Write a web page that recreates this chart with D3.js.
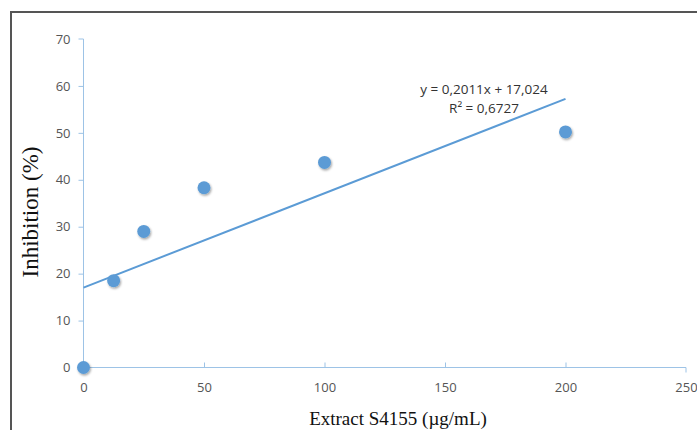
<!DOCTYPE html>
<html>
<head>
<meta charset="utf-8">
<script src="https://cdn.jsdelivr.net/npm/d3@7"></script>
<style>
  body { margin: 0; background: #fff; }
  .tick text { font-family: "Open Sans", "Liberation Sans", sans-serif; font-size: 13px; fill: #555; }
</style>
</head>
<body>
<div id="svg-area"></div>
<script>
// data
var concentrations = [0, 12.5, 25, 50, 100, 200];
var inhibition = [0, 18.5, 29, 38.3, 43.7, 50.2];
var xTicks = [0, 50, 100, 150, 200, 250];
var yTicks = [0, 10, 20, 30, 40, 50, 60, 70];
var trendSlope = 0.2011;
var trendIntercept = 17.024;
var trendLabels = ["y = 0,2011x + 17,024", "R² = 0,6727"];

var svgWidth = 697;
var svgHeight = 430;

var svg = d3.select("#svg-area")
  .append("svg")
  .attr("width", svgWidth)
  .attr("height", svgHeight);

// outer frame (top and left edges visible)
svg.append("path")
  .attr("d", "M11,430 V12 H697")
  .attr("fill", "none")
  .attr("stroke", "#555")
  .attr("stroke-width", 2);

var xScale = d3.scaleLinear().domain([0, 250]).range([83.5, 686]);
var yScale = d3.scaleLinear().domain([0, 70]).range([367.5, 39]);

var axisColor = "#9dc3e6";

// x axis
var xAxis = svg.append("g")
  .attr("transform", `translate(0, ${yScale(0)})`)
  .call(d3.axisBottom(xScale).tickValues(xTicks).tickSize(5).tickPadding(10));
xAxis.select(".domain").attr("stroke", axisColor).attr("d", `M${xScale(0)},0H${xScale(250)}V5`);
xAxis.selectAll(".tick line").attr("stroke", axisColor).attr("y1", -5).attr("y2", 0);
xAxis.selectAll(".tick").filter(d => d === 0 || d === 250).select("line").remove();

// y axis
var yAxis = svg.append("g")
  .attr("transform", `translate(${xScale(0)}, 0)`)
  .call(d3.axisLeft(yScale).tickValues(yTicks).tickSize(5).tickPadding(6));
yAxis.select(".domain").attr("stroke", axisColor).attr("d", `M-5,${yScale(70)}H0V${yScale(0)}`);
yAxis.selectAll(".tick line").attr("stroke", axisColor);
yAxis.selectAll(".tick text").attr("x", -13);
yAxis.selectAll(".tick").filter(d => d === 70).select("line").remove();

// trendline
svg.append("line")
  .attr("x1", xScale(0))
  .attr("y1", yScale(trendIntercept))
  .attr("x2", xScale(200))
  .attr("y2", yScale(trendSlope * 200 + trendIntercept))
  .attr("stroke", "#5b9bd5")
  .attr("stroke-width", 2);

// shadow for markers
var defs = svg.append("defs");
var filter = defs.append("filter").attr("id", "shadow").attr("x", "-50%").attr("y", "-50%").attr("width", "200%").attr("height", "200%");
filter.append("feDropShadow").attr("dx", 1).attr("dy", 1.5).attr("stdDeviation", 1.2).attr("flood-color", "#000").attr("flood-opacity", 0.35);

svg.selectAll(".dot")
  .data(concentrations)
  .enter()
  .append("circle")
  .attr("class", "dot")
  .attr("cx", d => xScale(d))
  .attr("cy", (d, i) => yScale(inhibition[i]))
  .attr("r", 6.5)
  .attr("fill", "#5b9bd5")
  .attr("filter", "url(#shadow)");

// equation label
svg.selectAll(".eq")
  .data(trendLabels)
  .enter()
  .append("text")
  .attr("class", "eq")
  .attr("x", 484)
  .attr("y", (d, i) => 94 + i * 19)
  .attr("text-anchor", "middle")
  .style("font-family", "'Open Sans', 'Liberation Sans', sans-serif")
  .style("font-size", "13.5px")
  .style("fill", "#333")
  .text(d => d);

// axis titles
svg.append("text")
  .attr("transform", "rotate(-90)")
  .attr("x", -212)
  .attr("y", 38)
  .attr("text-anchor", "middle")
  .style("font-family", "'Liberation Serif', 'Times New Roman', serif")
  .style("font-size", "23px")
  .style("fill", "#111")
  .text("Inhibition (%)");

svg.append("text")
  .attr("x", 398)
  .attr("y", 425)
  .attr("text-anchor", "middle")
  .style("font-family", "'Liberation Serif', 'Times New Roman', serif")
  .style("font-size", "19px")
  .style("fill", "#111")
  .text("Extract S4155 (µg/mL)");
</script>
</body>
</html>
